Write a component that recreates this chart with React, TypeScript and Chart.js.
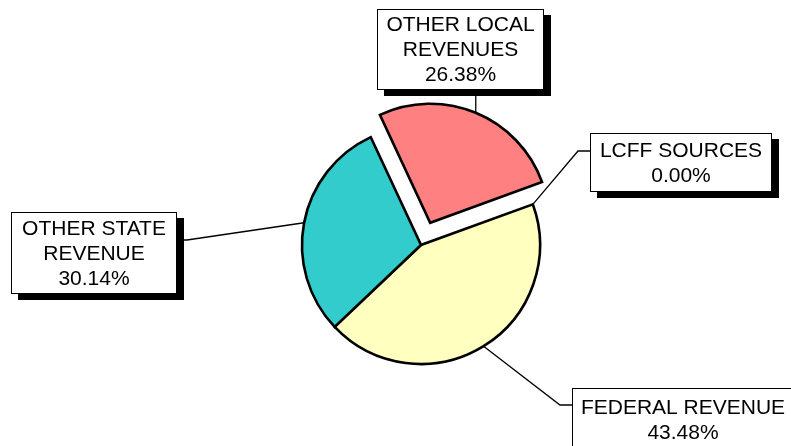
import { useEffect, useRef } from "react";
import { Chart, registerables } from "chart.js";

Chart.register(...registerables);

// ---- data ----
const categories = ["LCFF SOURCES", "FEDERAL REVENUE", "OTHER STATE REVENUE", "OTHER LOCAL REVENUES"];
const labelLines = [["LCFF SOURCES"], ["FEDERAL REVENUE"], ["OTHER STATE", "REVENUE"], ["OTHER LOCAL", "REVENUES"]];
const shares = [0.0, 43.48, 30.14, 26.38];
const sliceColors = ["#FFFFFF", "#FFFFC0", "#33CCCC", "#FF8080"];
// Chart.js moves an arc by offset/4 pixels
const sliceOffsets = [0, 0, 0, 96];

// ---- label box layout (annotation placement) ----
type Box = { x: number; y: number; w: number; h: number; elbow: number[][] | null };
const labelBoxes: Box[] = [
  { x: 590, y: 133, w: 182, h: 59, elbow: [[578, 151], [590, 151]] },
  { x: 572, y: 388, w: 222, h: 63, elbow: [[560, 405], [572, 405]] },
  { x: 11, y: 212, w: 166, h: 82, elbow: [[187, 240], [177, 240]] },
  { x: 377, y: 9, w: 167, h: 81, elbow: null },
];

const FONT = "21px 'Liberation Sans', Arial, Helvetica, sans-serif";

const calloutPlugin = {
  id: "callouts",
  afterDatasetsDraw(chart: any) {
    const ctx = chart.ctx as CanvasRenderingContext2D;
    const meta = chart.getDatasetMeta(0);
    ctx.save();
    // leader lines
    ctx.strokeStyle = "#000";
    ctx.lineWidth = 1.3;
    meta.data.forEach((arc: any, i: number) => {
      const { x, y, startAngle, endAngle, outerRadius } = arc.getProps(["x", "y", "startAngle", "endAngle", "outerRadius"], true);
      const mid = (startAngle + endAngle) / 2;
      const off = (sliceOffsets[i] || 0) / 4;
      const ax = x + Math.cos(mid) * (outerRadius + off);
      const ay = y + Math.sin(mid) * (outerRadius + off);
      const b = labelBoxes[i];
      ctx.beginPath();
      ctx.moveTo(ax, ay);
      if (b.elbow) {
        b.elbow.forEach((p) => ctx.lineTo(p[0], p[1]));
      } else {
        ctx.lineTo(ax, b.y + b.h);
      }
      ctx.stroke();
    });
    // boxes
    labelBoxes.forEach((b, i) => {
      ctx.fillStyle = "#000";
      ctx.fillRect(b.x + 7, b.y + 6, b.w, b.h);
      ctx.fillStyle = "#fff";
      ctx.fillRect(b.x, b.y, b.w, b.h);
      ctx.strokeStyle = "#000";
      ctx.lineWidth = 1;
      ctx.strokeRect(b.x + 0.5, b.y + 0.5, b.w - 1, b.h - 1);
      const lines = [...labelLines[i], shares[i].toFixed(2) + "%"];
      ctx.fillStyle = "#000";
      ctx.font = FONT;
      ctx.textAlign = "center";
      ctx.textBaseline = "middle";
      const lh = 25;
      const cx = b.x + b.w / 2;
      const cy = b.y + b.h / 2;
      lines.forEach((t, k) => {
        ctx.fillText(t, cx, cy + (k - (lines.length - 1) / 2) * lh + 1);
      });
    });
    ctx.restore();
  },
};

export default function App() {
  const ref = useRef<HTMLCanvasElement | null>(null);
  useEffect(() => {
    if (!ref.current) return;
    const chart = new Chart(ref.current, {
      type: "pie",
      data: {
        labels: categories,
        datasets: [
          {
            data: shares,
            backgroundColor: sliceColors,
            borderColor: "#000",
            borderWidth: [0, 2.6, 2.6, 2.6],
            borderJoinStyle: "miter",
            offset: sliceOffsets,
          } as any,
        ],
      },
      options: {
        responsive: false,
        animation: false,
        devicePixelRatio: 1,
        rotation: 70,
        radius: 119,
        layout: { padding: { left: 51, right: 0, top: 44, bottom: 0 } },
        plugins: { legend: { display: false }, tooltip: { enabled: false } },
      } as any,
      plugins: [calloutPlugin],
    });
    return () => chart.destroy();
  }, []);
  return (
    <div style={{ position: "fixed", left: 0, top: 0, width: 791, height: 446, background: "#fff" }}>
      <canvas ref={ref} width={791} height={446} style={{ display: "block" }} />
    </div>
  );
}
